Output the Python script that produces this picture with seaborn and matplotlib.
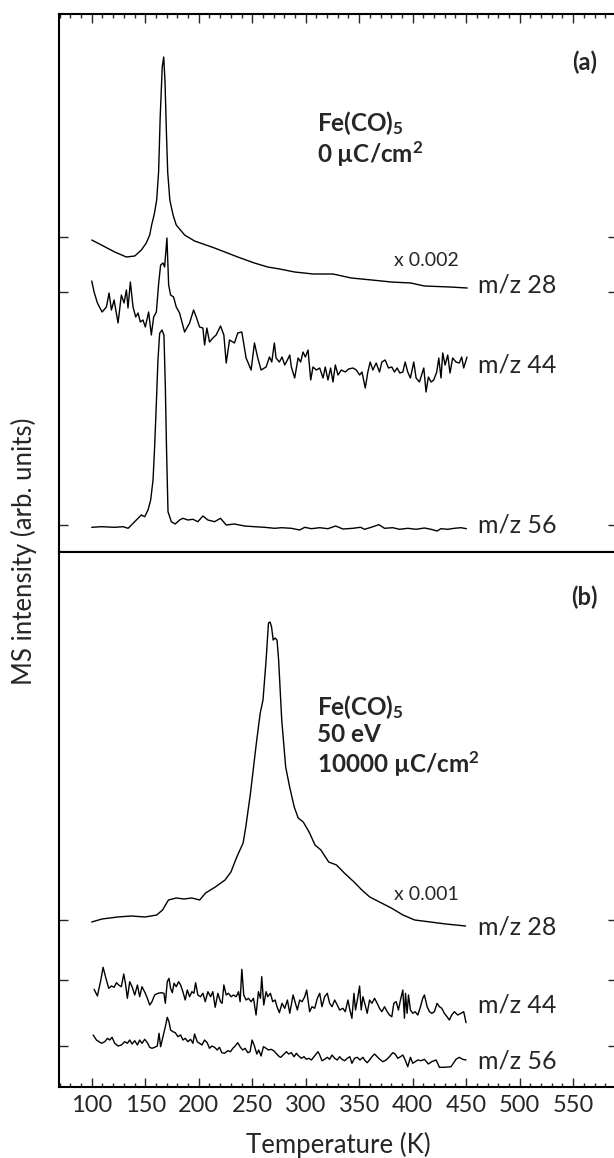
import matplotlib
matplotlib.use("Agg")
import matplotlib.pyplot as plt
from matplotlib.ticker import MultipleLocator
import numpy as np
import pandas as pd
import seaborn as sns

# ---------------- data ----------------
# Panel (a): Fe(CO)5, 0 uC/cm2
T28a = [100, 109, 121.5, 132.4, 140.2, 146.4, 151, 154.2, 156, 158.5, 160.7, 162.5, 164, 165.9, 167.3,
        168.5, 169.8, 171, 173, 176, 179, 186.8, 196.1, 214.8, 236.5, 252, 264.5, 275.7, 289.7, 307,
        325.5, 342.6, 361.7, 380, 398.2, 411, 434.7, 451]
I28a = [312, 307, 300, 295, 296, 302, 309, 317, 327, 338, 352, 380, 435, 485, 495,
        470, 420, 380, 352, 337, 327, 317, 311, 304, 295, 289, 285, 283, 280, 278,
        278, 274, 272, 270, 269, 266, 265, 264]

T44a = [100, 102.2, 105.3, 109.7, 113.7, 116.2, 118.4, 120.9, 124.6, 127.7,
        130.2, 132.4, 133.9, 136.1, 138.6, 141.1, 143.3, 145.4, 147.9, 150.1,
        153.2, 155.7, 157.9, 160.4, 162.6, 164.4, 166.6, 168.1, 170.3, 171.9,
        173.7, 176.5, 179, 182.1, 186.8, 191.5, 195.2, 197.7, 200.8, 203.9,
        205.5, 207.6, 210.1, 213.2, 216.3, 220.4, 223.5, 225.7, 228.8, 233.4,
        236.5, 240.3, 244.3, 249, 252.1, 255.2, 258.3, 263, 266.1, 268.3,
        270.7, 272.3, 275.4,
        277.9, 280.4, 282.9, 285.1, 286.6, 289.7, 292.9, 295.3, 297.5, 299.7,
        302.2, 304.7, 306.8, 310, 313.1, 316.2, 318.3, 320.8, 323.3, 325.5,
        327.7, 330.2, 333.3, 337, 340.1, 344.2, 347.3, 350.4, 352.6, 355.7,
        358.1, 360.3, 362.8, 365.9, 369, 371.2, 374.3, 377.4, 380.5, 383,
        385.5, 388, 390.8, 393, 395.4, 397.9, 401, 403.2, 406.3, 410.4,
        412.5, 414.7, 417.2, 419.7, 422.5, 424.4, 426.5, 428.1, 430.3, 432.8,
        434.9, 437.4, 440.5, 443.6, 445.8, 447.7, 450.8]
I44a = [271, 260, 249, 240, 245, 259, 242, 252, 229, 257,
        249, 262, 244, 270, 245, 235, 239, 230, 232, 225,
        240, 217, 235, 240, 269, 287, 289, 285, 314, 267,
        257, 255, 245, 239, 220, 229, 242, 235, 225, 224,
        207, 224, 210, 214, 217, 226, 217, 189, 212, 209,
        219, 220, 194, 182, 209, 194, 182, 185, 195, 190,
        209, 194, 190,
        195, 187, 192, 197, 185, 174, 194, 190, 200, 195,
        202, 172, 185, 182, 184, 174, 185, 172, 184, 170,
        187, 177, 182, 180, 183, 184, 182, 177, 180, 164,
        180, 190, 182, 189, 180, 190, 192, 184, 185, 180,
        184, 179, 180, 190, 180, 174, 190, 174, 170, 184,
        160, 175, 170, 172, 180, 194, 174, 199, 187, 197,
        179, 194, 190, 189, 195, 184, 195]

T56a = [100, 109.1, 121.5, 129.3, 134, 137.1, 141.7, 146.4, 149.5, 152.6,
        155.1, 157.3, 158.8, 160.4, 161.9, 163.5, 165.7, 167.5, 168.8, 170,
        171.3, 174.4, 178.1, 182.1, 185.2, 189.9, 194.6, 199.2, 203.9, 208.6,
        214.8, 220.4, 225.7, 233.4, 242.8, 252.1, 261.4,
        271.1, 277.3, 286.6, 294.4, 299.1, 305.3, 313.1, 320.8, 328, 334.8,
        344.1, 351.3, 355, 361.2, 368.4, 373.7, 381.4, 387.7, 395.4, 403.2,
        411, 417.2, 422.8, 426.5, 432.8, 439, 445.2, 450.2]
I56a = [24.7, 25.3, 24.7, 25.3, 23.7, 27, 32, 37, 35.3, 42,
        52, 72, 105.3, 148.7, 192, 218.7, 222, 217, 165.3, 98.7,
        40.3, 30.3, 28, 32, 33.7, 32, 32.7, 30.3, 36, 32,
        30.3, 33.7, 27, 28, 26, 25.3, 24.7,
        23.7, 24.3, 23.7, 22, 24.7, 23.3, 24.3, 23.3, 26, 23,
        23.7, 24.7, 22.7, 24.7, 27.3, 23.7, 24.3, 22.7, 23.7, 22.7,
        24, 22.7, 21, 23.3, 22.7, 23.7, 24.3, 23.3]

# Panel (b): Fe(CO)5, 50 eV, 10000 uC/cm2
T28b = [100, 109.6, 124.2, 137, 149.8, 160.7, 166.2, 171.7, 179, 186.3,
        193.6, 200.9, 206.4, 215.5, 224.6, 230.1, 235.6, 241.5, 244, 248.4,
        253.9, 257.5, 260.1, 263, 265.2, 266.7, 268.1, 269.6, 271.4, 273.2,
        274.7, 277.6, 281.3, 285, 289.3, 293, 297.7, 303.2, 308.7, 314.2,
        321.5, 328.8, 336.1, 345.2, 352.5, 359.9, 369, 380, 390.9, 401.9,
        416.5, 431.1, 449.4]
I28b = [165, 168, 170, 171, 170, 172, 177, 187, 189, 188,
        189, 187, 194, 200, 207, 215, 230, 244, 260, 294,
        344, 374, 387, 427, 464, 465, 460, 447, 449, 447,
        427, 367, 320, 300, 280, 269, 265, 255, 242, 237,
        225, 222, 214, 205, 197, 190, 185, 179, 172, 167,
        165, 163, 161]

T44b = [102.2, 105.3, 108.5, 110.6, 113.7, 115.9, 118.4, 120.9, 123.1, 125.2,
        127.7, 129.9, 131.5, 133.3, 135.5, 137.7, 140.2, 142.7, 144.8, 147,
        150.1, 152, 154.2, 156.3, 158.8, 161.9, 165, 167.5, 168.8, 170.6,
        172.2, 173.7, 175.3, 176.9, 179, 181.2, 183.1, 185.2, 187.4, 189.3,
        191.5, 193.6, 195.5, 197.1, 199.2, 201.7, 203.9, 206.1, 208.6, 211.1,
        213.2, 215.4, 217.9, 220.4, 221.9, 223.5, 225.7, 227.8, 230.3, 232.5,
        235, 237.2, 238.7, 240.3, 242.1, 244.3, 246.5, 249, 251.2, 253.6,
        255.8, 257.7, 258.9, 260.8, 263, 264.5, 267, 269.2, 271.4, 273.2,
        275.4,
        277.9, 280.4, 282.9, 285.1, 288.2, 290.4, 292.2, 294.4, 296.6, 299.1,
        300.9, 303.7, 305.9, 308.4, 310.9, 313.1, 315.2, 317.7, 320.2, 322.4,
        324.6, 327.1, 329.5, 331.7, 334.8, 337, 339.5, 341.3, 343.2, 345.1,
        346.6, 348.8, 350.4, 351.9, 353.5, 355.6, 357.5, 359.7, 361.9, 364.4,
        366.8, 369, 371.2, 373.7, 376.2, 378.3, 380.5, 382.4, 384.6, 386.7,
        388.6, 390.8, 392.3, 393.3, 394.8, 396.1, 397.9, 400.1, 402.3, 404.8,
        407.3, 409.4, 411, 413.5, 415.7, 417.8, 420.3, 422.8, 425, 427.2,
        429.6, 432.1, 434.3, 436.5, 439, 442.1, 445.2, 447.7, 449.9]
I44b = [97.7, 91, 107, 119.7, 107, 98.7, 101, 99.7, 104.3, 102,
        100.3, 113, 103.7, 88.7, 105.3, 100.3, 92, 102, 90.3, 100.3,
        93.7, 88.7, 82, 85.3, 92, 93.7, 94.3, 93.7, 83.7, 105.3,
        108.7, 98.7, 94.3, 103.7, 100.3, 105.3, 102, 95.3, 87, 97,
        90.3, 95.3, 93.7, 104.3, 92, 90.3, 93.7, 85.3, 95.3, 90.3,
        95.3, 79.7, 93.7, 85.3, 83.7, 102, 92, 93.7, 90.3, 92,
        90.3, 95.3, 85.3, 117.7, 92, 87, 88.7, 85.3, 88.7, 72,
        95.3, 88.7, 110.3, 82, 95.3, 90.3, 93.7, 85.3, 87, 80.3,
        74.3,
        83.7, 78.7, 87, 73.7, 92, 83.7, 77, 87, 85.3, 90.3,
        97, 75.3, 80.3, 78.7, 88.7, 93.7, 80.3, 90.3, 93.7, 83.7,
        80.3, 87, 82, 77, 78.7, 75.3, 87, 77, 68.7, 93.7,
        77, 90.3, 101, 77, 90.3, 82, 73.7, 87, 83.7, 88.7,
        83.7, 78.7, 75.3, 80.3, 75.3, 72, 70.3, 83.7, 85.3, 77,
        87, 97, 68.7, 93.7, 73.7, 92, 77, 73.7, 75.3, 72,
        80.3, 88.7, 92, 80.3, 75.3, 73.7, 75.3, 83.7, 80.3, 78.7,
        73.7, 70.3, 67, 72, 75.3, 72, 73.7, 75.3, 64.3]

T56b = [101.3, 104.4, 109.1, 112.2, 114.7, 116.8, 119, 121.5, 124.6, 127.7,
        130.8, 133.3, 135.5, 137.7, 140.2, 142.7, 144.8, 147, 149.5, 152,
        154.2, 156.3, 158.8, 161.3, 162.9, 164.4, 166.6, 168.8, 170.6, 172.2,
        173.7, 175.9, 178.1, 180.6, 183.1, 185.2, 187.4, 189.9, 192.4, 194.6,
        196.1, 198.6, 200.8, 203, 205.5, 207.9, 210.1, 212.3, 214.8, 217.3,
        219.4, 221.6, 224.1, 227.2, 229.7, 231.9, 234.1, 236.5, 239, 241.2,
        243.4, 245.9, 248, 249.9, 252.1, 254.3, 256.1, 258.3, 260.5, 263,
        265.2, 267.6, 270.1, 272.3, 275.4,
        276.7, 278.9, 282, 284.1, 286.6, 289.1, 291.3, 293.5, 296, 298.4,
        300.6, 302.8, 305.3, 307.8, 309.9, 311.5, 313.1, 315.2, 317.7, 320.2,
        322.4, 324.6, 327.1, 329.5, 331.7, 333.9, 336.4, 338.9, 341.3, 343.2,
        345.7, 348.2, 350.7, 353.5, 355, 357.5, 359.7, 361.9, 364.4, 366.8,
        369.3, 372.1, 375.2, 378.3, 381.4, 383.6, 386.1, 388.6, 390.8, 393,
        395.4, 397.9, 400.1, 402.3, 404.8, 407.9, 411, 414.7, 417.8, 421.9,
        425, 429.6, 435.9, 440.5, 443.6, 446.7, 449.9]
I56b = [52, 47, 43.7, 45.3, 48.7, 47, 49.7, 43.7, 41, 42,
        45.3, 43.7, 47, 43, 46.3, 42, 47, 43.7, 47.7, 44.3,
        39.7, 38.7, 39.7, 41, 53.7, 40.3, 50.3, 60.3, 69.7, 65.3,
        57, 55.3, 54.3, 50.3, 52, 47, 48.7, 45.3, 47.7, 43.7,
        53, 45.3, 43.7, 42, 47, 44.3, 38.7, 41, 39.7, 37,
        39.7, 34.3, 33.7, 36.3, 35.3, 38.7, 41, 44.3, 39.7, 37,
        38.7, 34.3, 35.3, 47, 41, 33, 37, 31, 40.3, 38.7,
        37, 37.7, 36.3, 33.7, 30.3,
        29.7, 32, 35.3, 33, 34.3, 30.3, 33.7, 31, 28.7, 30.3,
        27.7, 28.7, 27, 30.3, 33, 35.3, 32, 26.3, 27.7, 29.7,
        27.7, 32, 28.7, 27, 30.3, 27.7, 26.3, 28.7, 30.3, 23.7,
        28.7, 29.7, 27, 29.7, 27, 24.3, 27, 30.3, 33, 30.3,
        27.7, 25.3, 27, 30.3, 34.3, 33, 28.7, 30.3, 32, 27,
        20.3, 29.7, 23.7, 25.3, 27, 26.3, 27.7, 23, 25.3, 27,
        19.7, 19.7, 20.3, 27.7, 29.7, 27.7, 27]

# trace baselines (y ticks) and labels
base_a = [315, 260, 27]
base_b = [167, 107, 41]
labels = ["m/z 28", "m/z 44", "m/z 56"]
label_y_a = [267, 187, 27]
label_y_b = [160, 82, 26]
xticks = [100, 150, 200, 250, 300, 350, 400, 450, 500, 550]

# ---------------- style ----------------
sns.set_style("ticks")
plt.rcParams["font.family"] = ["Lato", "DejaVu Sans"]
plt.rcParams["mathtext.fontset"] = "custom"
plt.rcParams["mathtext.rm"] = "Lato"
plt.rcParams["mathtext.bf"] = "Lato:bold"
plt.rcParams["mathtext.it"] = "Lato:italic"

W_PX, H_PX = 614, 1158
fig = plt.figure(figsize=(W_PX / 100, H_PX / 100), dpi=100)
left, right = 59 / W_PX, 617 / W_PX
ax_a = fig.add_axes([left, (H_PX - 552) / H_PX, right - left, (552 - 14) / H_PX])
ax_b = fig.add_axes([left, (H_PX - 1087) / H_PX, right - left, (1087 - 552) / H_PX])

XLIM = (69.4, 591)


def draw(ax, series):
    for T, I in series:
        df = pd.DataFrame({"T": T, "I": I})
        sns.lineplot(data=df, x="T", y="I", ax=ax, color="black", linewidth=1.0,
                     estimator=None, sort=False, legend=False)


draw(ax_a, [(T28a, I28a), (T44a, I44a), (T56a, I56a)])
draw(ax_b, [(T28b, I28b), (T44b, I44b), (T56b, I56b)])

for ax, ylim, base in [(ax_a, 538, base_a), (ax_b, 535, base_b)]:
    ax.set_xlim(*XLIM)
    ax.set_ylim(0, ylim)
    ax.set_xlabel("")
    ax.set_ylabel("")
    ax.set_yticks(base)
    ax.tick_params(axis="y", which="both", direction="in", left=True, right=True,
                   labelleft=False, labelright=False, length=6.5, width=1.0)
    ax.xaxis.set_major_locator(MultipleLocator(50))
    ax.xaxis.set_minor_locator(MultipleLocator(10))
    for s in ax.spines.values():
        s.set_linewidth(1.5)
        s.set_color("black")
        s.set_visible(True)

ax_a.tick_params(axis="x", which="both", direction="in", bottom=False, top=True,
                 labelbottom=False, labeltop=False, width=1.0)
ax_a.tick_params(axis="x", which="major", length=6.5)
ax_a.tick_params(axis="x", which="minor", length=3.2)

ax_b.set_xticks(xticks)
ax_b.set_xticklabels([str(t) for t in xticks])
ax_b.tick_params(axis="x", which="both", direction="in", bottom=True, top=False,
                 labelbottom=True, width=1.0, labelsize=17, pad=6)
ax_b.tick_params(axis="x", which="major", length=6.5)
ax_b.tick_params(axis="x", which="minor", length=3.2)
ax_b.set_xlabel("Temperature (K)", fontsize=18.5, labelpad=11)

fig.text(24 / W_PX, 1 - 551 / H_PX, "MS intensity (arb. units)", rotation=90,
         ha="center", va="center", fontsize=18.5)

# annotations
LBL_X = 461
for ax, ys in [(ax_a, label_y_a), (ax_b, label_y_b)]:
    for lab, y in zip(labels, ys):
        ax.text(LBL_X, y, lab, ha="left", va="center", fontsize=18)

ax_a.text(560.6, 490, "(a)", ha="center", va="center", fontsize=17, fontweight="bold")
ax_b.text(560.6, 490, "(b)", ha="center", va="center", fontsize=17, fontweight="bold")

ax_a.text(413, 292, "x 0.002", ha="center", va="center", fontsize=14)
ax_b.text(413, 192, "x 0.001", ha="center", va="center", fontsize=14)

TX = 310.6
ax_a.text(TX, 429, r"Fe(CO)$_\mathbf{5}$", ha="left", va="center", fontsize=17.5, fontweight="bold")
ax_a.text(TX, 399, r"0 µC/cm$^\mathbf{2}$", ha="left", va="center", fontsize=17.5, fontweight="bold")
ax_b.text(TX, 380, r"Fe(CO)$_\mathbf{5}$", ha="left", va="center", fontsize=17.5, fontweight="bold")
ax_b.text(TX, 352, "50 eV", ha="left", va="center", fontsize=17.5, fontweight="bold")
ax_b.text(TX, 323, r"10000 µC/cm$^\mathbf{2}$", ha="left", va="center", fontsize=17.5, fontweight="bold")

fig.savefig("out.png", dpi=100)
